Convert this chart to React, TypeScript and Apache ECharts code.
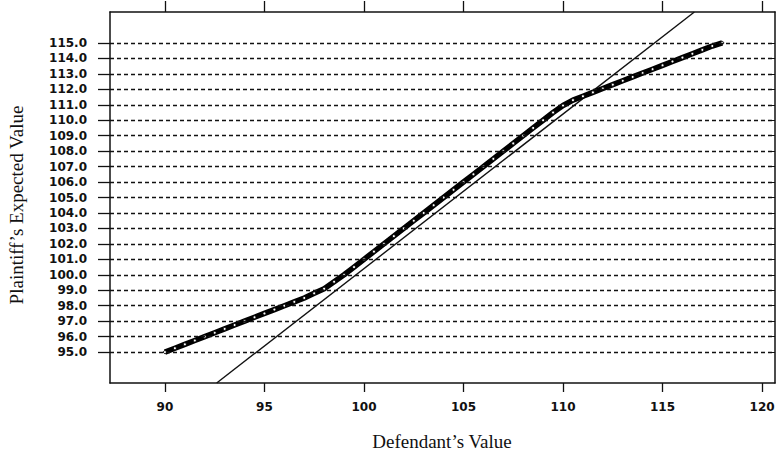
import React, { useEffect, useRef } from "react";
import * as echarts from "echarts";

const xTicks = [90, 95, 100, 105, 110, 115, 120];
const yTicks = [95, 96, 97, 98, 99, 100, 101, 102, 103, 104, 105, 106, 107, 108, 109, 110, 111, 112, 113, 114, 115];

const curveX = [
  90, 90.5, 91, 91.5, 92, 92.5, 93, 93.5, 94, 94.5, 95, 95.5, 96, 96.5, 97, 97.5,
  98, 98.5, 99, 99.5, 100, 100.5, 101, 101.5, 102, 102.5, 103, 103.5, 104, 104.5,
  105, 105.5, 106, 106.5, 107, 107.5, 108, 108.5, 109, 109.5, 110, 110.5, 111, 111.5,
  112, 112.5, 113, 113.5, 114, 114.5, 115, 115.5, 116, 116.5, 117, 117.5, 118,
];
const curveY = [
  95.0, 95.25, 95.5, 95.75, 96.0, 96.25, 96.5, 96.75, 97.0, 97.25, 97.5, 97.75, 98.0, 98.25, 98.5, 98.8,
  99.1, 99.55, 100.0, 100.5, 101.0, 101.5, 102.0, 102.5, 103.0, 103.5, 104.0, 104.5, 105.0, 105.5,
  106.0, 106.5, 107.0, 107.5, 108.0, 108.5, 109.0, 109.5, 110.0, 110.5, 110.95, 111.3, 111.55, 111.8,
  112.05, 112.3, 112.55, 112.8, 113.05, 113.3, 113.55, 113.8, 114.05, 114.3, 114.55, 114.8, 115.0,
];

const refLineX = [92.6, 116.6];
const refLineY = [93.0, 117.0];

const xName = "Defendant\u2019s Value";
const yName = "Plaintiff\u2019s Expected Value";

export default function App() {
  const ref = useRef<HTMLDivElement>(null);
  useEffect(() => {
    if (!ref.current) return;
    const chart = echarts.init(ref.current, null, { renderer: "svg" });
    const ink = "#111";
    const tickFont = {
      fontFamily: "DejaVu Sans",
      fontWeight: "bold" as const,
      fontSize: 12,
      color: ink,
    };
    const axisLine = { show: true, lineStyle: { color: ink, width: 1.5 } };
    chart.setOption({
      animation: false,
      backgroundColor: "#fff",
      grid: { left: 110, right: 7, top: 12, height: 371, containLabel: false },
      xAxis: [
        {
          type: "value",
          position: "bottom",
          min: 87.24,
          max: 120.65,
          axisLine,
          axisTick: { show: true, customValues: xTicks, length: 9, lineStyle: { color: ink, width: 1.3 } },
          axisLabel: { ...tickFont, customValues: xTicks, margin: 18 },
          splitLine: { show: false },
        },
        {
          type: "value",
          position: "top",
          min: 87.24,
          max: 120.65,
          axisLine,
          axisTick: { show: true, customValues: xTicks, length: 11, lineStyle: { color: ink, width: 1.3 } },
          axisLabel: { show: false },
          splitLine: { show: false },
        },
      ],
      yAxis: [
        {
          type: "value",
          position: "left",
          min: 93,
          max: 117,
          axisLine,
          axisTick: { show: true, customValues: yTicks, length: 12, lineStyle: { color: ink, width: 1.3 } },
          axisLabel: { ...tickFont, customValues: yTicks, margin: 23, formatter: (v: number) => v.toFixed(1) },
          splitLine: { show: false },
        },
        {
          type: "value",
          position: "right",
          min: 93,
          max: 117,
          axisLine,
          axisTick: { show: true, inside: true, customValues: yTicks, length: 4, lineStyle: { color: ink, width: 1 } },
          axisLabel: { show: false },
          splitLine: { show: false },
        },
      ],
      graphic: [
        {
          type: "text",
          x: 442,
          y: 441,
          style: {
            text: xName,
            fontFamily: "Liberation Serif",
            fontSize: 19,
            fill: ink,
            textAlign: "center",
            textVerticalAlign: "middle",
          },
        },
        {
          type: "text",
          x: 16,
          y: 205,
          rotation: Math.PI / 2,
          style: {
            text: yName,
            fontFamily: "Liberation Serif",
            fontSize: 19,
            fill: ink,
            textAlign: "center",
            textVerticalAlign: "middle",
          },
        },
      ],
      series: [
        {
          type: "line",
          data: [],
          z: 1,
          markLine: {
            silent: true,
            symbol: ["none", "none"],
            label: { show: false },
            lineStyle: { color: ink, type: [4, 3], width: 1.3 },
            data: yTicks.map((v) => ({ yAxis: v })),
          },
        },
        {
          type: "line",
          z: 3,
          data: refLineX.map((x, i) => [x, refLineY[i]]),
          symbol: "none",
          lineStyle: { color: ink, width: 1.4 },
        },
        {
          type: "line",
          z: 4,
          data: curveX.map((x, i) => [x, curveY[i]]),
          symbol: "circle",
          symbolSize: 3,
          showAllSymbol: true,
          itemStyle: { color: "#fff", borderColor: "#000", borderWidth: 1 },
          lineStyle: { color: "#000", width: 5.5 },
        },
      ],
    });
    return () => chart.dispose();
  }, []);
  return (
    <div
      ref={ref}
      style={{ position: "absolute", left: 0, top: 0, width: 782, height: 451, background: "#fff" }}
    />
  );
}
